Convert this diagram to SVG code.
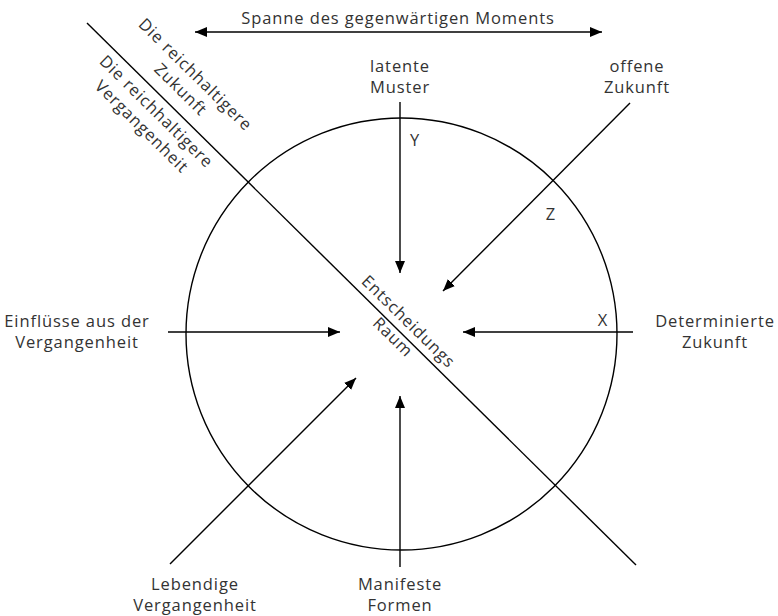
<svg xmlns="http://www.w3.org/2000/svg" width="778" height="616" viewBox="0 0 778 616">
<style>
text{font-family:"Open Sans","Noto Sans","DejaVu Sans",sans-serif;font-size:16.5px;letter-spacing:0.9px;font-weight:400;fill:#333;text-anchor:middle}
.ln{stroke:#000;stroke-width:1.4;fill:none}
</style>
<defs>
<marker id="ah" viewBox="0 0 12 10" refX="12" refY="5" markerWidth="12" markerHeight="10" markerUnits="userSpaceOnUse" orient="auto-start-reverse">
<path d="M0,0 L12,5 L0,10 Z" fill="#000"/>
</marker>
</defs>
<rect width="778" height="616" fill="#fff"/>
<g id="circle"><ellipse class="ln" cx="401.5" cy="334" rx="215.5" ry="216"/></g>
<g id="connectors">
<line class="ln" x1="87" y1="23" x2="636" y2="565"/>
<line class="ln" x1="195" y1="32" x2="602" y2="32" marker-start="url(#ah)" marker-end="url(#ah)"/>
<line class="ln" x1="400" y1="102" x2="400" y2="273" marker-end="url(#ah)"/>
<line class="ln" x1="630" y1="103" x2="443" y2="291" marker-end="url(#ah)"/>
<line class="ln" x1="168" y1="332" x2="340" y2="332" marker-end="url(#ah)"/>
<line class="ln" x1="633" y1="332" x2="463" y2="332" marker-end="url(#ah)"/>
<line class="ln" x1="170" y1="564" x2="356" y2="378" marker-end="url(#ah)"/>
<line class="ln" x1="400" y1="567" x2="400" y2="396" marker-end="url(#ah)"/>
</g>
<g id="span-label"><text x="398" y="24">Spanne des gegenwärtigen Moments</text></g>
<g id="latente-muster"><text x="400" y="72">latente</text><text x="400" y="93">Muster</text></g>
<g id="offene-zukunft"><text x="637" y="72">offene</text><text x="637" y="93">Zukunft</text></g>
<g id="einfluesse"><text x="77" y="327">Einflüsse aus der</text><text x="77" y="348">Vergangenheit</text></g>
<g id="determinierte"><text x="715" y="327">Determinierte</text><text x="715" y="348">Zukunft</text></g>
<g id="lebendige"><text x="195" y="590">Lebendige</text><text x="195" y="611">Vergangenheit</text></g>
<g id="manifeste"><text x="400" y="590">Manifeste</text><text x="400" y="611">Formen</text></g>
<g id="marks"><text x="415" y="146">Y</text><text x="551" y="220">Z</text><text x="603" y="326">X</text></g>
<g id="zukunft-rotated" transform="translate(195,75) rotate(44.6)"><text x="0" y="5">Die reichhaltigere</text><text x="0" y="26">Zukunft</text></g>
<g id="vergangenheit-rotated" transform="translate(156,112) rotate(44.6)"><text x="0" y="5">Die reichhaltigere</text><text x="0" y="26">Vergangenheit</text></g>
<g id="entscheidung" transform="translate(408,322) rotate(44.6)"><text x="0" y="5">Entscheidungs</text><text x="0" y="27">Raum</text></g>
</svg>
